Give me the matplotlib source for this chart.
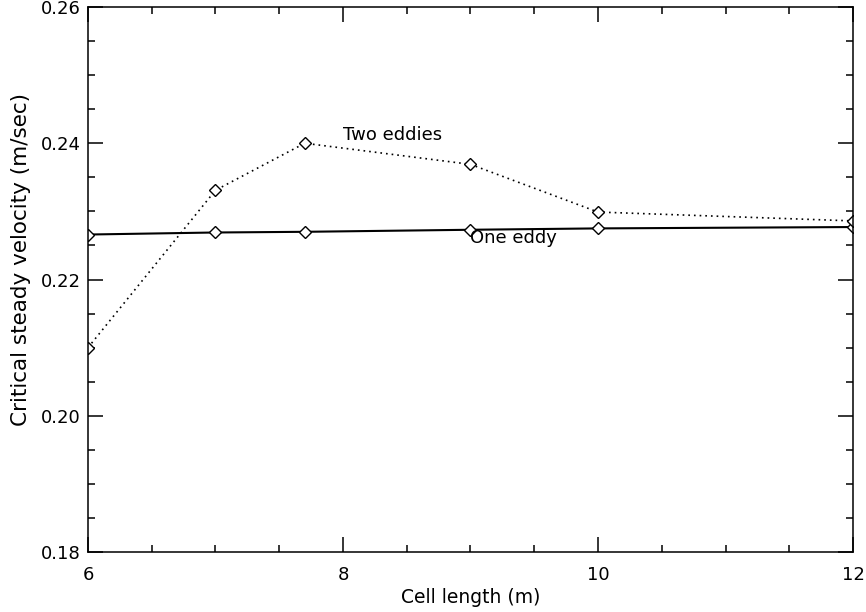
import matplotlib
matplotlib.use("Agg")
import matplotlib.pyplot as plt
from matplotlib.ticker import MultipleLocator, FormatStrFormatter

# cell length (m) and critical steady velocity (m/sec)
cell_length = [6, 7, 7.7, 9, 10, 12]
one_eddy = [0.2266, 0.2269, 0.2270, 0.2273, 0.2275, 0.2277]
two_eddies = [0.2100, 0.2331, 0.2400, 0.2369, 0.2299, 0.2286]

plt.rcParams['font.family'] = 'DejaVu Sans'
plt.rcParams['font.size'] = 13

fig = plt.figure(figsize=(8.66, 6.12), dpi=100)
ax = fig.add_axes([0.1016, 0.098, 0.8834, 0.8906])

marker_style = dict(marker='D', markersize=6.3, markerfacecolor='white',
                    markeredgecolor='black', markeredgewidth=1.0)
ax.plot(cell_length, one_eddy, '-', color='black', linewidth=1.5, **marker_style)
ax.plot(cell_length, two_eddies, color='black', linewidth=1.2,
        linestyle=(0, (1, 2.4)), **marker_style)

ax.text(8.0, 0.2412, 'Two eddies', ha='left', va='center', fontsize=13)
ax.text(9.0, 0.2261, 'One eddy', ha='left', va='center', fontsize=13)

ax.set_xlim(6, 12)
ax.set_ylim(0.18, 0.26)
ax.xaxis.set_major_locator(MultipleLocator(2))
ax.xaxis.set_minor_locator(MultipleLocator(0.5))
ax.yaxis.set_major_locator(MultipleLocator(0.02))
ax.yaxis.set_minor_locator(MultipleLocator(0.005))
ax.yaxis.set_major_formatter(FormatStrFormatter('%.2f'))

ax.tick_params(which='both', direction='in', top=True, right=True,
               width=1.1, colors='black', labelsize=13)
ax.tick_params(which='major', length=11)
ax.tick_params(which='minor', length=5)
ax.tick_params(axis='x', which='major', pad=10)
ax.tick_params(axis='y', which='major', pad=5)
for sp in ax.spines.values():
    sp.set_linewidth(1.1)

ax.set_xlabel('Cell length (m)', fontsize=13.5, labelpad=3)
ax.set_ylabel('Critical steady velocity (m/sec)', fontsize=15.5,
              labelpad=7, y=0.536)

fig.savefig('out.png', dpi=100)
